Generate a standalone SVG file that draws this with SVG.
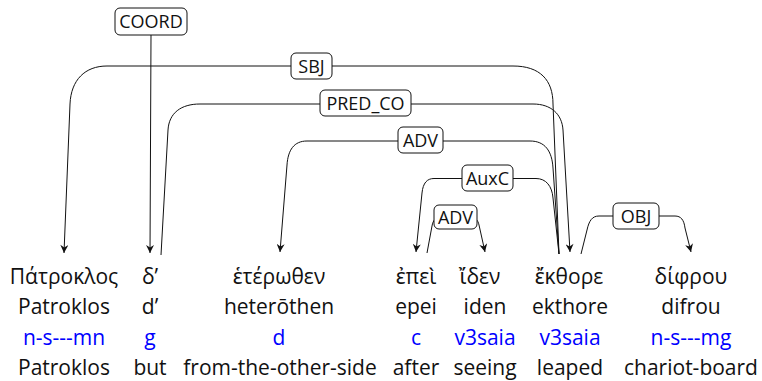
<svg xmlns="http://www.w3.org/2000/svg" width="762" height="381" viewBox="0 0 762 381">
<style>
.w{font-family:"Open Sans","Noto Sans","DejaVu Sans",sans-serif;font-size:21px;fill:#111;text-anchor:middle}
.pos{fill:#0000ff}
.lab{font-family:"Open Sans","Noto Sans","DejaVu Sans",sans-serif;font-size:18px;fill:#111;text-anchor:middle}
.box{fill:#fff;stroke:#111;stroke-width:1}
.arc{fill:none;stroke:#111;stroke-width:1}
.arr{marker-end:url(#ah)}
</style>
<defs>
<marker id="ah" viewBox="0 0 10 10" refX="10" refY="5" markerWidth="9" markerHeight="8" markerUnits="userSpaceOnUse" orient="auto">
<path d="M0,0 L10,5 L0,10 L3,5 z" fill="#111"/>
</marker>
</defs>
<rect width="762" height="381" fill="#fff"/>
<g id="connectors">
<g id="e-coord">
<path class="arc arr" d="M151 35 L150 253"/>
<rect class="box" x="115" y="8" width="72" height="27" rx="5"/>
<text class="lab" x="151" y="28">COORD</text>
</g>
<g id="e-sbj">
<path class="arc arr" d="M559 254 L553 104 C553 80 540 66 513 66 L107 66 C85 66 71 80 70 104 L64 253"/>
<rect class="box" x="291" y="53" width="41" height="26" rx="5"/>
<text class="lab" x="311.5" y="72.5">SBJ</text>
</g>
<g id="e-predco">
<path class="arc arr" d="M161 255 L168 130 C169 113 181 104 200 104 L533 104 C551 104 562 114 563 130 L570 252"/>
<rect class="box" x="320" y="90" width="91" height="26" rx="5"/>
<text class="lab" x="365.5" y="109.5">PRED_CO</text>
</g>
<g id="e-adv1">
<path class="arc arr" d="M559 254 L553 168 C552 151 545 141 530 141 L307 141 C294 141 288 150 287 165 L280 252"/>
<rect class="box" x="398" y="127" width="45" height="26" rx="5"/>
<text class="lab" x="420.5" y="146.5">ADV</text>
</g>
<g id="e-auxc">
<path class="arc arr" d="M559 254 L553 198 C552 186 546 178.5 536 178.5 L434 178.5 C427 178.5 423 183 422 193 L416 252"/>
<rect class="box" x="462" y="165" width="51" height="26" rx="5"/>
<text class="lab" x="487.5" y="184.5">AuxC</text>
</g>
<g id="e-adv2">
<path class="arc arr" d="M427 253 L432 226 C433 220 436 217 441 217 L470 217 C475 217 478 220 479 225 L485 252"/>
<rect class="box" x="434" y="205" width="43" height="24" rx="5"/>
<text class="lab" x="455.5" y="223.5">ADV</text>
</g>
<g id="e-obj">
<path class="arc arr" d="M581 254 L587 230 C589 221 592 216 599 216 L675 216 C681 216 684 220 685 228 L691 252"/>
<rect class="box" x="613" y="203" width="46" height="26" rx="5"/>
<text class="lab" x="636" y="222.5">OBJ</text>
</g>
</g>
<g id="w1">
<text class="w" x="64" y="284">Πάτροκλος</text>
<text class="w" x="64" y="314">Patroklos</text>
<text class="w pos" x="64" y="345">n-s---mn</text>
<text class="w" x="64" y="375">Patroklos</text>
</g>
<g id="w2">
<text class="w" x="150" y="284">δ’</text>
<text class="w" x="150" y="314">d’</text>
<text class="w pos" x="150" y="345">g</text>
<text class="w" x="150" y="375">but</text>
</g>
<g id="w3">
<text class="w" x="279" y="284">ἑτέρωθεν</text>
<text class="w" x="279" y="314">heterōthen</text>
<text class="w pos" x="279" y="345">d</text>
<text class="w" x="280" y="375">from-the-other-side</text>
</g>
<g id="w4">
<text class="w" x="416" y="284">ἐπεὶ</text>
<text class="w" x="416" y="314">epei</text>
<text class="w pos" x="416" y="345">c</text>
<text class="w" x="416" y="375">after</text>
</g>
<g id="w5">
<text class="w" x="480" y="284">ἴδεν</text>
<text class="w" x="485" y="314">iden</text>
<text class="w pos" x="485" y="345">v3saia</text>
<text class="w" x="485" y="375">seeing</text>
</g>
<g id="w6">
<text class="w" x="569" y="284">ἔκθορε</text>
<text class="w" x="570" y="314">ekthore</text>
<text class="w pos" x="570" y="345">v3saia</text>
<text class="w" x="570" y="375">leaped</text>
</g>
<g id="w7">
<text class="w" x="691" y="284">δίφρου</text>
<text class="w" x="691" y="314">difrou</text>
<text class="w pos" x="691" y="345">n-s---mg</text>
<text class="w" x="691" y="375">chariot-board</text>
</g>
</svg>
